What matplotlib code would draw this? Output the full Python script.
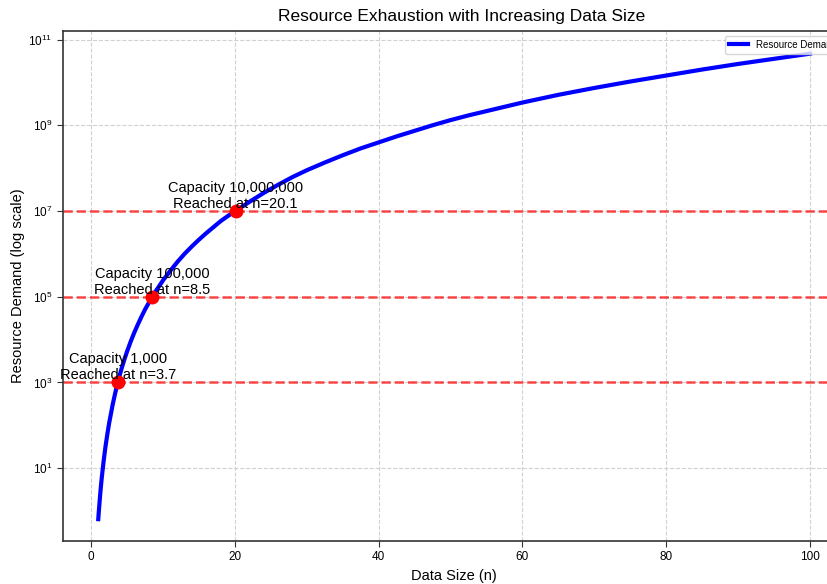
import numpy as np
import matplotlib
matplotlib.use('Agg')
import matplotlib.pyplot as plt
from matplotlib.ticker import NullLocator

plt.rcParams['font.family'] = ['Liberation Sans', 'DejaVu Sans']

# Curva (n, log10 de la demanda)
n_vals = [1.0, 1.05, 1.1, 1.2, 1.3, 1.4, 1.5, 1.75, 2.0, 2.25, 2.5, 3.0, 3.3, 3.7,
          4.2, 4.6, 5.0, 5.5, 6.0, 6.5, 7.0, 7.5, 8.0, 8.5, 9, 10, 11, 12, 13, 14,
          15, 16, 17, 18, 19, 20.1, 22, 24, 26, 28, 30, 32.5, 35, 37.5, 40, 42.5, 45,
          47.5, 50, 52.5, 55, 60, 65, 70, 75, 80, 85, 90, 95, 100]
log_demanda = [-0.19, -0.07, 0.04, 0.25, 0.45, 0.63, 0.80, 1.17, 1.50, 1.78, 2.04, 2.48, 2.71, 3.0,
               3.30, 3.52, 3.72, 3.95, 4.16, 4.35, 4.53, 4.70, 4.85, 5.0, 5.13, 5.38, 5.60, 5.81, 6.0, 6.17,
               6.33, 6.48, 6.62, 6.76, 6.88, 7.0, 7.21, 7.42, 7.61, 7.79, 7.95, 8.13, 8.30, 8.46, 8.6, 8.74, 8.87,
               9.0, 9.12, 9.23, 9.33, 9.53, 9.71, 9.87, 10.02, 10.16, 10.30, 10.43, 10.55, 10.67]
demanda = [10 ** v for v in log_demanda]

# Capacidades y punto donde se alcanzan
capacidades = [1000, 100000, 10000000]
n_alcanzado = [3.7, 8.5, 20.1]

fig = plt.figure(figsize=(8.27, 5.84), dpi=100)
ax = fig.add_axes([0.0758, 0.0736, 0.9467, 0.8734])

ax.plot(n_vals, demanda, color='blue', lw=3, label='Resource Demand', zorder=3)

for cap, n in zip(capacidades, n_alcanzado):
    ax.axhline(cap, color='red', linestyle='--', lw=1.8, alpha=0.7, zorder=2)
    ax.plot(n, cap, 'o', color='red', markersize=9, zorder=4)
    ax.text(n, cap, f'Capacity {cap:,}\nReached at n={n}', ha='center', va='bottom',
            fontsize=10.5, zorder=5)

ax.set_yscale('log')
ax.yaxis.set_minor_locator(NullLocator())
ax.set_xlim(-3.95, 104.95)
ax.set_ylim(10 ** -0.7, 10 ** 11.2)

ax.set_title('Resource Exhaustion with Increasing Data Size', fontsize=12.5, x=0.51, pad=7)
ax.set_xlabel('Data Size (n)', fontsize=10.5, labelpad=4)
ax.set_ylabel('Resource Demand (log scale)', fontsize=10.5, labelpad=2)
ax.tick_params(labelsize=8.5, length=4, color='#333333')
ax.grid(True, linestyle='--', color='#cccccc', alpha=0.9, lw=0.8)
for s in ax.spines.values():
    s.set_color('#333333')
    s.set_linewidth(1.2)

ax.legend(loc='upper right', fontsize=7)

fig.savefig('out.png', dpi=100)
